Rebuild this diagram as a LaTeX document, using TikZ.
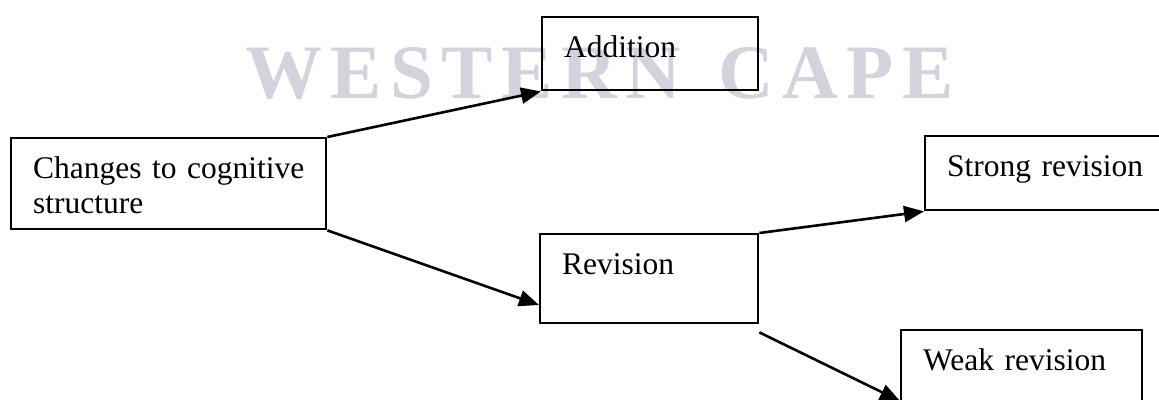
\documentclass[tikz,border=0pt]{standalone}
\usepackage{fontspec}
\setmainfont{Liberation Serif}
\newfontfamily\wmfont[LetterSpace=11]{Liberation Serif Bold}
\usetikzlibrary{arrows.meta,calc}
\definecolor{wmgray}{RGB}{210,211,221}
\begin{document}
\begin{tikzpicture}[x=1pt, y=-1pt,
		box/.style={draw, line width=2.4pt, anchor=north west, inner xsep=22pt, inner ysep=0pt,
			text height=40pt, align=left, font=\fontsize{31.5}{35}\selectfont},
		link/.style={line width=2.6pt, -{Triangle[length=20pt, width=16pt]}}]
		\useasboundingbox (0,0) rectangle (1159,399);
		%水印
		\node[anchor=base west, inner sep=0pt, text=wmgray, font=\wmfont\fontsize{77}{80}\selectfont] (wm) at (245,98) {WESTERN\hspace{10pt} CAPE};
		%方框
		\node[box, text width=271pt, text depth=51pt] (chg) at (10,137) {\mbox{Changes to cognitive}\\\mbox{structure}};
		\node[box, text width=172pt, text depth=33pt] (add) at (541,16) {\mbox{Addition}};
		\node[box, text width=174pt, text depth=49pt] (rev) at (539,233) {\mbox{Revision}};
		\node[box, text width=194pt, text depth=34pt] (strong) at (924,135) {\mbox{Strong revision}};
		\node[box, text width=197pt, text depth=50pt] (weak) at (900,329) {\mbox{Weak revision}};
		%箭头
		\coordinate (revin) at ($(rev.north west)+(0,72)$);
		\coordinate (revout) at ($(rev.south east)+(0,8)$);
		\coordinate (weakin) at ($(weak.north west)+(0,72)$);
		\draw[link] (chg.north east) -- (add.south west);
		\draw[link] (chg.south east) -- (revin);
		\draw[link] (rev.north east) -- (strong.south west);
		\draw[link] (revout) -- (weakin);
	\end{tikzpicture}
\end{document}
